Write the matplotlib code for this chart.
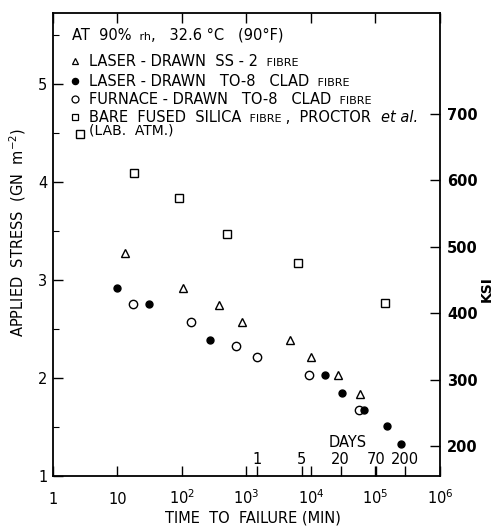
import numpy as np
import matplotlib
matplotlib.use("Agg")
import matplotlib.pyplot as plt
from matplotlib.ticker import FixedLocator, NullFormatter, NullLocator

# ---------------- data ----------------
ss2_time = [13.1, 102, 371, 861, 4730, 9890, 26500, 57500]
ss2_stress = [3.27, 2.92, 2.74, 2.57, 2.39, 2.21, 2.03, 1.84]

to8_laser_time = [9.7, 31.1, 272, 16500, 30600, 66300, 149000, 248000]
to8_laser_stress = [2.92, 2.75, 2.39, 2.03, 1.85, 1.67, 1.51, 1.33]

to8_furnace_time = [17.6, 136, 680, 1440, 9310, 56100]
to8_furnace_stress = [2.75, 2.57, 2.33, 2.21, 2.03, 1.67]

proctor_time = [2.62, 18.0, 89.9, 504, 6350, 140000]
proctor_stress = [4.49, 4.09, 3.83, 3.47, 3.17, 2.76]

x_ticks = [1, 10, 1e2, 1e3, 1e4, 1e5, 1e6]
x_tick_labels = ["1", "10", "$10^2$", "$10^3$", "$10^4$", "$10^5$", "$10^6$"]
y_ticks = [1, 2, 3, 4, 5]
y_minor = [1.5, 2.5, 3.5, 4.5, 5.5]
ksi_ticks = [200, 300, 400, 500, 600, 700]
days = [1, 5, 20, 70, 200]
MIN_PER_DAY = 1440

# ---------------- figure ----------------
W, H = 502, 528
fig = plt.figure(figsize=(W / 100, H / 100), dpi=100)
plt.rcParams['font.family'] = ['DejaVu Sans']

L, R, T, B = 53, 440, 13, 476
ax = fig.add_axes([L / W, 1 - B / H, (R - L) / W, (B - T) / H])
ax.set_xscale("log")
ax.set_xlim(1, 1e6)
ax.set_ylim(1, 5.72)

for s in ax.spines.values():
    s.set_linewidth(1.3)
    s.set_color("black")

ax.plot(ss2_time, ss2_stress, linestyle="none", marker="^", ms=5.8,
        mfc="white", mec="black", mew=1.0, clip_on=False)
ax.plot(to8_furnace_time, to8_furnace_stress, linestyle="none", marker="o", ms=6.0,
        mfc="white", mec="black", mew=1.0, clip_on=False)
ax.plot(to8_laser_time, to8_laser_stress, linestyle="none", marker="o", ms=5.0,
        mfc="black", mec="black", mew=1.0, clip_on=False)
ax.plot(proctor_time, proctor_stress, linestyle="none", marker="s", ms=5.5,
        mfc="white", mec="black", mew=1.0, clip_on=False)

# x ticks
ax.xaxis.set_major_locator(FixedLocator(x_ticks))
ax.xaxis.set_minor_locator(FixedLocator([d * MIN_PER_DAY for d in days]))
ax.xaxis.set_major_formatter(NullFormatter())
ax.xaxis.set_minor_formatter(NullFormatter())
ax.tick_params(axis="x", which="major", direction="in", length=7, width=1.0,
               top=True, bottom=True)
ax.tick_params(axis="x", which="minor", direction="in", length=7, width=1.0,
               top=False, bottom=True)
for xv, lab in zip(x_ticks, x_tick_labels):
    ax.text(xv, -0.061, lab, transform=ax.get_xaxis_transform(), ha="center",
            va="baseline", fontsize=10.5, clip_on=False)

# day labels
for d in days:
    ax.text(d * MIN_PER_DAY, 0.019, str(d), transform=ax.get_xaxis_transform(),
            ha="center", va="bottom", fontsize=10.5)
ax.text(37500, 0.073, "DAYS", transform=ax.get_xaxis_transform(),
        ha="center", va="center", fontsize=10.5)

# y ticks
ax.yaxis.set_major_locator(FixedLocator(y_ticks))
ax.yaxis.set_minor_locator(FixedLocator(y_minor))
ax.set_yticklabels([str(v) for v in y_ticks])
ax.tick_params(axis="y", which="major", direction="in", length=7, width=1.0,
               left=True, right=False, labelsize=10.5, pad=4)
ax.tick_params(axis="y", which="minor", direction="in", length=4, width=0.8,
               left=True, right=False)

# right KSI axis
ax2 = ax.twinx()
ax2.set_ylim(155, 852)
ax2.yaxis.set_major_locator(FixedLocator(ksi_ticks))
ax2.yaxis.set_minor_locator(NullLocator())
ax2.set_yticklabels([str(v) for v in ksi_ticks], fontweight="bold")
ax2.tick_params(axis="y", direction="in", length=7, width=1.0, labelsize=10.5, pad=5)
for s in ax2.spines.values():
    s.set_visible(False)

# axis labels
fig.text(18 / W, 1 - 232 / H, "APPLIED  STRESS  (GN  m$^{-2}$)", rotation=90,
         ha="center", va="center", fontsize=10.5)
fig.text(487 / W, 1 - 289 / H, "KSI", rotation=90, ha="center", va="center",
         fontsize=10, fontweight="bold")
fig.text(253 / W, 1 - 518 / H, "TIME  TO  FAILURE (MIN)", ha="center", va="center",
         fontsize=10.5)

# ---------------- legend block ----------------
renderer = fig.canvas.get_renderer()


def rich(x_px, base_px, pieces):
    x = x_px
    for txt, kw in pieces:
        t = fig.text(x / W, 1 - base_px / H, txt, ha="left", va="baseline", **kw)
        bb = t.get_window_extent(renderer=renderer)
        x = bb.x1


big = dict(fontsize=10.5)
small = dict(fontsize=8)
rich(72, 40, [("AT  90% ", big), (" rh", small), (",   32.6 °C   (90°F)", big)])
rows = [
    (61, "^", "white", [("LASER - DRAWN  SS - 2 ", big), (" FIBRE", small)]),
    (81, "o", "black", [("LASER - DRAWN   TO-8   CLAD ", big), (" FIBRE", small)]),
    (99, "o", "white", [("FURNACE - DRAWN   TO-8   CLAD ", big), (" FIBRE", small)]),
    (117, "s", "white", [("BARE  FUSED  SILICA ", big), (" FIBRE", small),
                         (" ,  PROCTOR  ", big),
                         ("et al.", dict(fontsize=10.5, style="italic"))]),
]
for yc, mk, fc, pieces in rows:
    fig.add_artist(plt.Line2D([75 / W], [1 - yc / H], marker=mk, linestyle="none",
                              ms=5 if fc == "white" else 4.5, mfc=fc, mec="black",
                              mew=0.9, transform=fig.transFigure))
    rich(89, yc + 5, pieces)
rich(89, 135, [("(LAB.  ATM.)", dict(fontsize=10))])

fig.savefig("out.png", dpi=100)
